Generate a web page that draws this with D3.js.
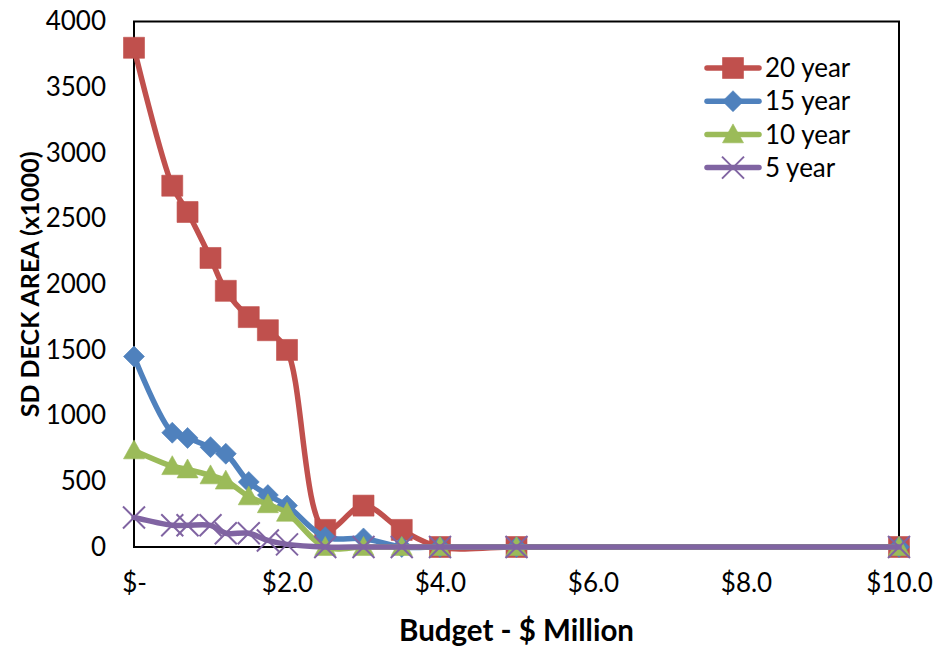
<!DOCTYPE html>
<html>
<head>
<meta charset="utf-8">
<script src="https://cdn.jsdelivr.net/npm/d3@7"></script>
<style>
  html, body { margin: 0; padding: 0; background: #fff; }
  svg { display: block; font-family: Lato, "Open Sans", sans-serif; }
</style>
</head>
<body>
<svg id="chart" width="937" height="649"></svg>
<script>
// ---- data ----
const budget = [0, 0.5, 0.7, 1.0, 1.2, 1.5, 1.75, 2.0, 2.5, 3.0, 3.5, 4.0, 5.0, 10.0];
const year20 = [3800, 2750, 2550, 2200, 1950, 1750, 1650, 1500, 130, 315, 130, 0, 0, 0];
const year15 = [1450, 870, 830, 760, 710, 495, 395, 315, 75, 65, 0, 0, 0, 0];
const year10 = [735, 615, 590, 545, 505, 385, 325, 260, 0, 0, 0, 0, 0, 0];
const year5  = [225, 165, 165, 165, 105, 105, 50, 20, 0, 0, 0, 0, 0, 0];
const seriesNames = ["20 year", "15 year", "10 year", "5 year"];
const seriesColors = ["#C0504D", "#4F81BD", "#9BBB59", "#8064A2"];
const seriesMarkers = ["square", "diamond", "triangle", "x"];
const yTicks = [0, 500, 1000, 1500, 2000, 2500, 3000, 3500, 4000];
const xTicks = [0, 2, 4, 6, 8, 10];
const xTickLabels = ["$-", "$2.0", "$4.0", "$6.0", "$8.0", "$10.0"];
const xTitle = "Budget - $ Million";
const yTitle = "SD DECK AREA (x1000)";

const seriesValues = [year20, year15, year10, year5];

// ---- layout ----
const svg = d3.select("#chart");
const plot = { left: 134, right: 899, top: 21.5, bottom: 547 };

const x = d3.scaleLinear().domain([0, 10]).range([plot.left, plot.right]);
const y = d3.scaleLinear().domain([0, 4000]).range([plot.bottom, plot.top]);

// plot border
svg.append("rect")
  .attr("x", plot.left).attr("y", plot.top)
  .attr("width", plot.right - plot.left).attr("height", plot.bottom - plot.top)
  .attr("fill", "none").attr("stroke", "#000").attr("stroke-width", 2);

// y axis
const yAxis = d3.axisLeft(y).tickValues(yTicks).tickSize(0).tickPadding(28).tickFormat(d3.format("d"));
const gy = svg.append("g").attr("transform", `translate(${plot.left},0)`).call(yAxis);
gy.select(".domain").remove();
gy.selectAll("text").attr("font-size", 26).attr("font-family", "Lato").attr("fill", "#000");

// x axis
const xAxis = d3.axisBottom(x).tickValues(xTicks).tickSize(0).tickPadding(27)
  .tickFormat((d, i) => xTickLabels[i]);
const gx = svg.append("g").attr("transform", `translate(0,${plot.bottom})`).call(xAxis);
gx.select(".domain").remove();
gx.selectAll("text").attr("font-size", 26).attr("font-family", "Lato").attr("fill", "#000");

// axis titles
svg.append("text")
  .attr("x", (plot.left + plot.right) / 2).attr("y", 641)
  .attr("text-anchor", "middle")
  .attr("font-size", 29.5).attr("font-weight", "bold").attr("fill", "#000")
  .text(xTitle);

svg.append("text")
  .attr("transform", `translate(39,${(plot.top + plot.bottom) / 2}) rotate(-90)`)
  .attr("text-anchor", "middle")
  .attr("font-size", 25).attr("font-weight", "bold").attr("fill", "#000")
  .text(yTitle);

// marker path generator
function markerPath(type, s) {
  const h = s / 2;
  if (type === "square") return `M${-h},${-h}H${h}V${h}H${-h}Z`;
  if (type === "diamond") return `M0,${-h}L${h},0L0,${h}L${-h},0Z`;
  if (type === "triangle") return `M0,${-h}L${h},${h * 0.8}L${-h},${h * 0.8}Z`;
  return `M${-h},${-h}L${h},${h}M${h},${-h}L${-h},${h}`;
}
function drawMarker(g, type, color, cx, cy, s) {
  const p = g.append("path")
    .attr("d", markerPath(type, s))
    .attr("transform", `translate(${cx},${cy})`);
  if (type === "x") {
    p.attr("fill", "none").attr("stroke", color).attr("stroke-width", 2);
  } else {
    p.attr("fill", color).attr("stroke", color).attr("stroke-width", 1).attr("stroke-opacity", 0.6);
  }
}

const line = d3.line()
  .x(d => x(d[0])).y(d => y(d[1]))
  .curve(d3.curveCatmullRom.alpha(0.5));

const markerSize = [21, 21, 21, 22];

seriesValues.forEach((vals, si) => {
  const pts = budget.map((b, i) => [b, vals[i]]);
  const g = svg.append("g");
  g.append("path")
    .datum(pts)
    .attr("d", line)
    .attr("fill", "none")
    .attr("stroke", seriesColors[si])
    .attr("stroke-width", 5.5)
    .attr("stroke-linejoin", "round")
    .attr("stroke-linecap", "round");
  pts.forEach(p => drawMarker(g, seriesMarkers[si], seriesColors[si], x(p[0]), y(p[1]), markerSize[si]));
});

// legend
const legend = svg.append("g");
seriesNames.forEach((name, i) => {
  const ly = 68 + i * 33.2;
  const g = legend.append("g");
  g.append("line")
    .attr("x1", 707).attr("x2", 759).attr("y1", ly).attr("y2", ly)
    .attr("stroke", seriesColors[i]).attr("stroke-width", 5.5).attr("stroke-linecap", "round");
  drawMarker(g, seriesMarkers[i], seriesColors[i], 733, ly, markerSize[i]);
  g.append("text")
    .attr("x", 765).attr("y", ly).attr("dy", "0.35em")
    .attr("font-size", 26).attr("fill", "#000")
    .text(name);
});
</script>
</body>
</html>
